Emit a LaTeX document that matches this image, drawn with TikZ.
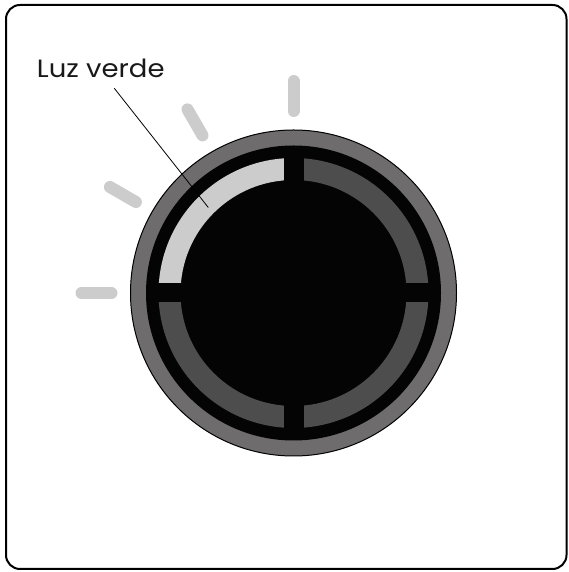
\documentclass[tikz,border=0pt]{standalone}
\usepackage{fontspec}
\usepackage{graphicx}
\setmainfont{Poppins}
\usetikzlibrary{calc}
\definecolor{ringgray}{HTML}{6E6C6C}
\definecolor{segdark}{HTML}{4D4D4D}
\definecolor{seglight}{HTML}{CCCCCC}
\definecolor{knobblack}{HTML}{040404}
\tikzset{
  ray/.style={draw=seglight, line width=12pt, line cap=round},
  frame/.style={draw=black, line width=2pt, rounded corners=14pt},
  leader/.style={draw=black, line width=0.8pt},
  lbl/.style={anchor=base west, inner sep=0pt, font=\fontsize{25}{30}\selectfont, text=black!90}
}
\begin{document}
\begin{tikzpicture}[x=1pt,y=1pt]
\useasboundingbox (0,0) rectangle (568,572);
\fill[white] (0,0) rectangle (568,572);
\draw[frame] (6,3) rectangle (566.5,567);
\coordinate (c) at (293.5,279);
% rays
\foreach \a in {90,120,150,180}
  \draw[ray] ($(c)+(\a:182)$) -- ($(c)+(\a:212)$);
% knob
\fill[ringgray, draw=black, line width=1pt] (c) circle (163);
\fill[knobblack] (c) circle (147.5);
% segments
\fill[seglight] ($(c)+(90:135)$) arc (90:180:135) -- ($(c)+(180:113)$) arc (180:90:113) -- cycle;
\fill[segdark] ($(c)+(0:135)$) arc (0:90:135) -- ($(c)+(90:113)$) arc (90:0:113) -- cycle;
\fill[segdark] ($(c)+(180:135)$) arc (180:270:135) -- ($(c)+(270:113)$) arc (270:180:113) -- cycle;
\fill[segdark] ($(c)+(270:135)$) arc (270:360:135) -- ($(c)+(0:113)$) arc (360:270:113) -- cycle;
\fill[knobblack] ($(c)+(-10,-140)$) rectangle ($(c)+(10,140)$);
\fill[knobblack] ($(c)+(-140,-9.5)$) rectangle ($(c)+(140,9.5)$);
% label
\node[lbl] (label) at (36.7,494) {\scalebox{1.1}[1]{Luz verde}};
\coordinate (tip) at (208.3,364.5);
\draw[leader] (114.3,483.7) coordinate (ls) -- (tip);
\end{tikzpicture}
\end{document}
